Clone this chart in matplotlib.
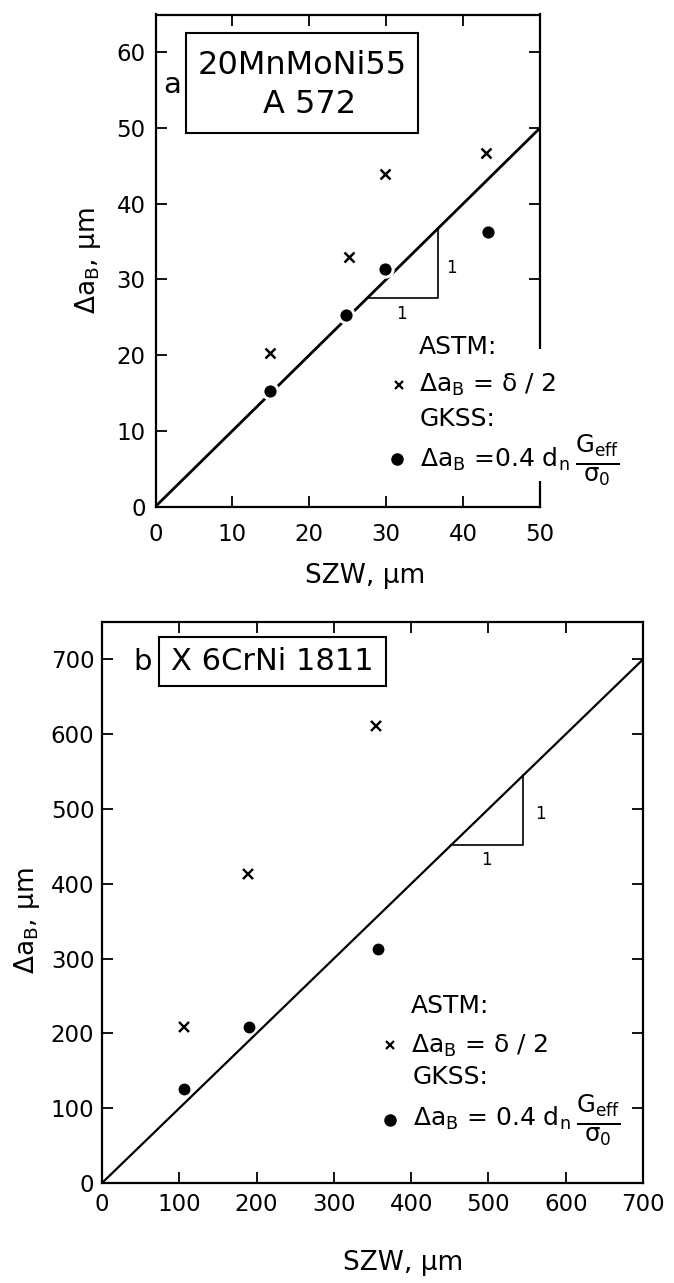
import matplotlib
matplotlib.use('Agg')
import matplotlib.pyplot as plt
from matplotlib.patches import Rectangle

plt.rcParams['font.family'] = ['DejaVu Sans']
plt.rcParams['mathtext.default'] = 'regular'

# ---------------- data: panel a (20MnMoNi55 / A572) ----------------
a_szw_astm = [14.9, 25.1, 29.9, 43.0]
a_dab_astm = [20.3, 32.9, 43.9, 46.7]
a_szw_gkss = [14.9, 24.8, 29.8, 43.2]
a_dab_gkss = [15.3, 25.3, 31.4, 36.3]
a_line = [0, 50]
a_xticks = [0, 10, 20, 30, 40, 50]
a_yticks = [0, 10, 20, 30, 40, 50, 60]

# ---------------- data: panel b (X 6CrNi 1811) ----------------
b_szw_astm = [106, 189, 355]
b_dab_astm = [208, 413, 611]
b_szw_gkss = [106, 190, 357]
b_dab_gkss = [126, 209, 313]
b_line = [0, 700]
b_xticks = [0, 100, 200, 300, 400, 500, 600, 700]
b_yticks = [0, 100, 200, 300, 400, 500, 600, 700]

ylabel = r'$\Delta a_{B}$, μm'
xlabel = 'SZW, μm'
astm_eq = r'$\Delta a_{B}$ = δ / 2'
gkss_eq_a = r'$\Delta a_{B}$ =0.4 d$_{n}$'
gkss_eq_b = r'$\Delta a_{B}$ = 0.4 d$_{n}$'
gkss_frac = r'$\frac{G_{eff}}{\sigma_{0}}$'

W, H = 674, 1283
fig = plt.figure(figsize=(W / 100, H / 100), dpi=100)
fig.patch.set_facecolor('white')


def style(ax, xpad, ypad, lsize):
    for s in ax.spines.values():
        s.set_linewidth(1.6)
    ax.tick_params(axis='both', which='major', direction='in', length=8,
                   width=1.3, top=True, right=True, labelsize=lsize,
                   colors='black')
    ax.tick_params(axis='x', pad=xpad)
    ax.tick_params(axis='y', pad=ypad)


def add_frac(ax, txt, z=5):
    ax.annotate(gkss_frac, xy=(1.0, 0.45), xycoords=txt,
                xytext=(4, 0), textcoords='offset points',
                fontsize=25, ha='left', va='center', zorder=z,
                annotation_clip=False)


# ================= panel a =================
axA = fig.add_axes([155.5 / W, 1 - 506.5 / H, 384.5 / W, 492 / H])
axA.set_xlim(0, 50)
axA.set_ylim(0, 65)
axA.set_xticks(a_xticks)
axA.set_yticks(a_yticks)
style(axA, 12, 7, 16.5)

axA.plot(a_line, a_line, color='black', lw=2.0, zorder=2)
axA.plot(a_szw_gkss, a_dab_gkss, linestyle='none', marker='o', ms=11,
         mfc='black', mec='white', mew=2.2, zorder=4)
axA.plot(a_szw_astm, a_dab_astm, linestyle='none', marker='x', ms=7,
         mec='black', mew=1.8, zorder=4)

# slope triangle
axA.plot([27.6, 36.7, 36.7], [27.6, 27.6, 36.7], color='black', lw=1.2)
axA.text(37.8, 31.5, '1', fontsize=12, ha='left', va='center')
axA.text(32.0, 25.4, '1', fontsize=12, ha='center', va='center')

# title box
axA.add_patch(Rectangle((4.0, 49.3), 30.2, 13.2, fill=False, lw=1.5,
                        ec='black', zorder=3))
axA.text(19.1, 58.3, '20MnMoNi55', fontsize=23, ha='center', va='center')
axA.text(20.0, 53.1, 'A 572', fontsize=23, ha='center', va='center')
axA.text(2.2, 55.7, 'a', fontsize=21, ha='center', va='center')

# white area hiding the right spine behind the legend
axA.add_patch(Rectangle((33.0, 3.4), 20.0, 17.4, fc='white', ec='none',
                        clip_on=False, zorder=2.6))
axA.text(34.3, 20.1, 'ASTM:', fontsize=18, ha='left', va='baseline',
         zorder=5)
axA.plot([31.6], [16.1], linestyle='none', marker='x', ms=6, mec='black',
         mew=1.6, clip_on=False, zorder=5)
axA.text(34.3, 15.2, astm_eq, fontsize=18, ha='left', va='baseline',
         zorder=5)
axA.text(34.3, 10.7, 'GKSS:', fontsize=18, ha='left', va='baseline',
         zorder=5)
axA.plot([31.4], [6.3], linestyle='none', marker='o', ms=8, mfc='black',
         mec='black', clip_on=False, zorder=5)
tA = axA.text(34.4, 5.3, gkss_eq_a, fontsize=18, ha='left', va='baseline',
              zorder=5)
add_frac(axA, tA)

fig.text(88 / W, 1 - 261 / H, ylabel, rotation=90, ha='center',
         va='center', fontsize=19)
fig.text(365 / W, 1 - 583 / H, xlabel, ha='center', va='baseline',
         fontsize=19)

# ================= panel b =================
axB = fig.add_axes([102 / W, 1 - 1183 / H, 541 / W, 561 / H])
axB.set_xlim(0, 700)
axB.set_ylim(0, 750)
axB.set_xticks(b_xticks)
axB.set_yticks(b_yticks)
style(axB, 7, 5.5, 16.5)

axB.plot(b_line, b_line, color='black', lw=1.6, zorder=2)
axB.plot(b_szw_gkss, b_dab_gkss, linestyle='none', marker='o', ms=7.5,
         mfc='black', mec='black', zorder=4)
axB.plot(b_szw_astm, b_dab_astm, linestyle='none', marker='x', ms=6.5,
         mec='black', mew=1.7, zorder=4)

axB.plot([452, 545, 545], [452, 452, 545], color='black', lw=1.2)
axB.text(561, 493, '1', fontsize=12, ha='left', va='center')
axB.text(497, 432, '1', fontsize=12, ha='center', va='center')

axB.add_patch(Rectangle((74, 665), 293, 65, fill=False, lw=1.5,
                        ec='black', zorder=3))
axB.text(220, 697, 'X 6CrNi 1811', fontsize=22, ha='center', va='center')
axB.text(52, 697, 'b', fontsize=21, ha='center', va='center')

axB.text(400, 227, 'ASTM:', fontsize=18, ha='left', va='baseline')
axB.plot([373], [184], linestyle='none', marker='x', ms=6, mec='black',
         mew=1.6)
axB.text(400, 173.6, astm_eq, fontsize=18, ha='left', va='baseline')
axB.text(402, 132.3, 'GKSS:', fontsize=18, ha='left', va='baseline')
axB.plot([373], [84.3], linestyle='none', marker='o', ms=8, mfc='black',
         mec='black')
tB = axB.text(402, 76.3, gkss_eq_b, fontsize=18, ha='left', va='baseline')
add_frac(axB, tB)

fig.text(27 / W, 1 - 921 / H, ylabel, rotation=90, ha='center',
         va='center', fontsize=19)
fig.text(403 / W, 1 - 1270 / H, xlabel, ha='center', va='baseline',
         fontsize=19)

fig.savefig('out.png', dpi=100, facecolor='white')
